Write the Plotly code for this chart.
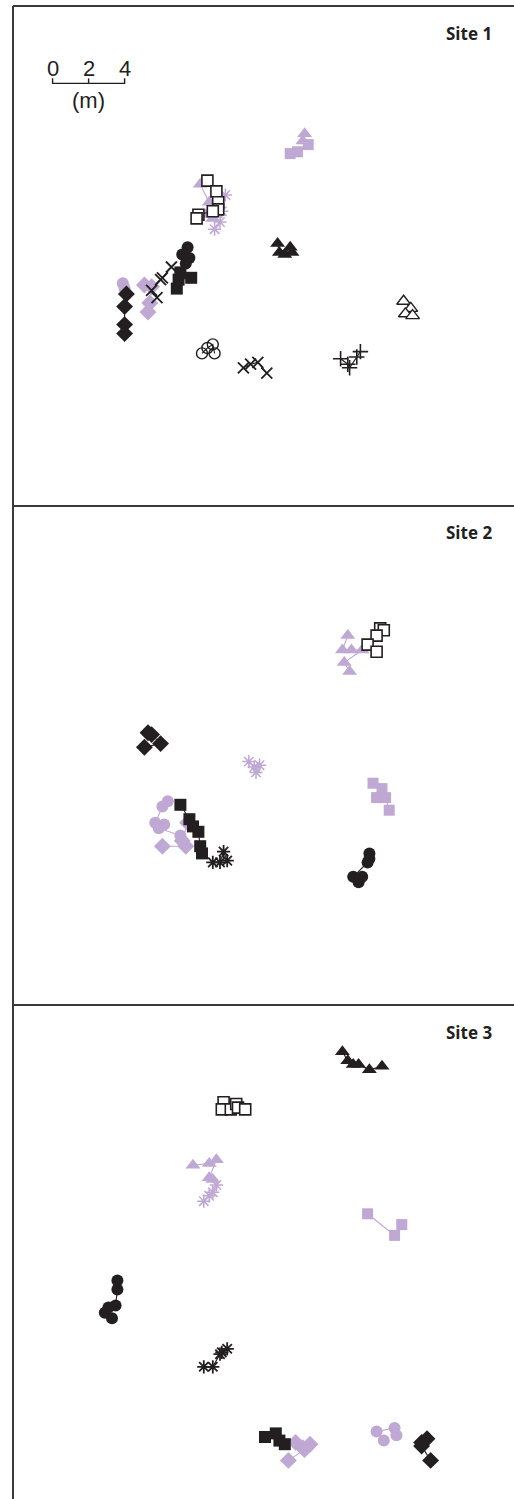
import plotly.graph_objects as go

BLACK = "#231f20"
LILAC = "#bfa8d4"
BORDER = "#3a3a3a"

# ---- data: positions in metres (x from left edge, y from top edge of each site panel) ----
# Site 1
s1_lilac_tri_a_x = [16.2, 16.1]
s1_lilac_tri_a_y = [7.1, 7.5]
s1_lilac_sq_x = [16.4, 15.8, 15.4]
s1_lilac_sq_y = [7.7, 8.1, 8.2]
s1_open_sq_x = [10.8, 11.3, 11.4, 11.4, 11.1, 10.3, 10.2]
s1_open_sq_y = [9.7, 10.3, 10.9, 11.3, 11.4, 11.6, 11.8]
s1_lilac_tri_x = [10.4, 10.9, 10.7, 11.1]
s1_lilac_tri_y = [9.9, 10.9, 11.6, 11.8]
s1_lilac_ast_x = [11.8, 11.6, 11.5, 11.2]
s1_lilac_ast_y = [10.5, 11.4, 12.0, 12.4]
s1_blk_circ_x = [9.7, 9.4, 9.8, 9.6]
s1_blk_circ_y = [13.4, 13.8, 14.0, 14.3]
s1_blk_sq_x = [9.3, 9.9, 9.2, 9.1]
s1_blk_sq_y = [14.8, 15.1, 15.2, 15.7]
s1_blk_x_a_x = [8.8, 8.3, 8.2, 7.7, 8.0]
s1_blk_x_a_y = [14.5, 15.1, 15.2, 15.8, 16.2]
s1_lilac_circ_x = [6.1, 6.2]
s1_lilac_circ_y = [15.4, 15.7]
s1_blk_dia_x = [6.3, 6.2, 6.2, 6.2]
s1_blk_dia_y = [16.0, 16.7, 17.7, 18.2]
s1_lilac_dia_x = [7.3, 7.7, 7.6, 7.5]
s1_lilac_dia_y = [15.5, 15.6, 16.5, 17.0]
s1_open_circ_x = [10.5, 10.8, 11.1, 11.2]
s1_open_circ_y = [19.3, 19.0, 18.8, 19.3]
s1_blk_x_b_x = [12.8, 13.2, 13.6, 14.1]
s1_blk_x_b_y = [20.1, 19.9, 19.8, 20.4]
s1_blk_tri_x = [14.7, 14.8, 15.4, 15.1, 15.5]
s1_blk_tri_y = [13.2, 13.7, 13.4, 13.8, 13.7]
s1_open_tri_x = [21.7, 22.1, 21.8, 22.2]
s1_open_tri_y = [16.4, 16.8, 17.1, 17.2]
s1_blk_plus_x = [18.2, 18.6, 18.7, 19.1, 19.3]
s1_blk_plus_y = [19.6, 19.9, 20.1, 19.5, 19.2]

# Site 2
s2_open_sq_x = [20.4, 20.6, 20.2, 19.7, 20.2]
s2_open_sq_y = [6.8, 6.9, 7.2, 7.7, 8.1]
s2_lilac_tri_x = [18.6, 18.3, 18.8, 19.4, 18.4, 18.7]
s2_lilac_tri_y = [7.2, 8.0, 8.0, 8.0, 8.7, 9.2]
s2_blk_dia_x = [7.5, 7.7, 8.2, 7.3]
s2_blk_dia_y = [12.6, 12.7, 13.2, 13.4]
s2_lilac_ast_x = [13.1, 13.4, 13.7, 13.5]
s2_lilac_ast_y = [14.2, 14.5, 14.4, 14.8]
s2_lilac_sq_x = [20.0, 20.5, 20.2, 20.7, 20.9]
s2_lilac_sq_y = [15.4, 15.7, 16.2, 16.2, 16.9]
s2_lilac_circ_x = [8.6, 8.3, 7.9, 8.4, 8.1, 9.3]
s2_lilac_circ_y = [16.4, 16.7, 17.6, 17.7, 17.9, 18.3]
s2_lilac_dia_x = [9.7, 9.4, 9.6, 8.3]
s2_lilac_dia_y = [17.6, 18.6, 18.9, 18.9]
s2_blk_sq_x = [9.3, 9.8, 10.0, 10.3, 10.4, 10.5]
s2_blk_sq_y = [16.6, 17.4, 17.8, 18.1, 18.9, 19.3]
s2_blk_ast_x = [11.1, 11.5, 11.7, 11.9]
s2_blk_ast_y = [19.8, 19.8, 19.2, 19.7]
s2_blk_circ_x = [19.8, 19.8, 19.7, 18.9, 19.4, 19.2]
s2_blk_circ_y = [19.3, 19.6, 19.8, 20.6, 20.6, 20.9]

# Site 3
s3_blk_tri_x = [18.3, 18.6, 18.9, 19.2, 19.8, 20.5]
s3_blk_tri_y = [2.6, 3.1, 3.3, 3.3, 3.6, 3.4]
s3_open_sq_x = [11.7, 11.6, 12.1, 12.4, 12.5, 12.9]
s3_open_sq_y = [5.4, 5.8, 5.8, 5.5, 5.7, 5.8]
s3_lilac_tri_x = [10.0, 10.9, 11.3, 10.9, 11.1]
s3_lilac_tri_y = [8.9, 8.8, 8.6, 9.6, 9.7]
s3_lilac_ast_x = [11.3, 11.1, 10.9, 10.6]
s3_lilac_ast_y = [10.0, 10.4, 10.6, 10.9]
s3_lilac_sq_x = [19.7, 21.2, 21.6]
s3_lilac_sq_y = [11.6, 12.8, 12.2]
s3_blk_circ_x = [5.8, 5.8, 5.7, 5.3, 5.1, 5.5]
s3_blk_circ_y = [15.3, 15.8, 16.7, 16.8, 17.1, 17.4]
s3_blk_ast_x = [10.6, 11.1, 11.5, 11.6, 11.9]
s3_blk_ast_y = [20.1, 20.1, 19.4, 19.3, 19.1]
s3_blk_sq_x = [14.0, 14.6, 14.8, 15.1]
s3_blk_sq_y = [24.0, 23.8, 24.2, 24.4]
s3_lilac_dia_x = [15.7, 16.1, 16.5, 16.2, 15.3]
s3_lilac_dia_y = [24.3, 24.6, 24.4, 24.7, 25.3]
s3_lilac_circ_x = [20.6, 20.2, 21.2, 21.3]
s3_lilac_circ_y = [24.2, 23.7, 23.5, 23.9]
s3_blk_dia_x = [22.7, 23.0, 22.7, 23.2]
s3_blk_dia_y = [24.3, 24.1, 24.5, 25.3]

site_labels = ["Site 1", "Site 2", "Site 3"]
scale_ticks = [0, 2, 4]
scale_origin = (2.2, 4.3)  # metres, panel 1

# ---- styles ----
STY = {
    "blk_circ": dict(symbol="circle", size=12, color=BLACK, line=dict(width=0)),
    "lilac_circ": dict(symbol="circle", size=12, color=LILAC, line=dict(width=0)),
    "blk_sq": dict(symbol="square", size=12, color=BLACK, line=dict(width=0)),
    "lilac_sq": dict(symbol="square", size=11, color=LILAC, line=dict(width=0)),
    "open_sq": dict(symbol="square", size=11, color="white", line=dict(width=1.6, color=BLACK)),
    "blk_tri": dict(symbol="triangle-up", size=13, color=BLACK, line=dict(width=0)),
    "lilac_tri": dict(symbol="triangle-up", size=13, color=LILAC, line=dict(width=0)),
    "open_tri": dict(symbol="triangle-up", size=12, color="white", line=dict(width=1.4, color=BLACK)),
    "blk_dia": dict(symbol="diamond", size=13, color=BLACK, line=dict(width=0)),
    "lilac_dia": dict(symbol="diamond", size=13, color=LILAC, line=dict(width=0)),
    "open_circ": dict(symbol="circle-open", size=11, color=BLACK, line=dict(width=1.4, color=BLACK)),
    "blk_x": dict(symbol="x-thin", size=11, color=BLACK, line=dict(width=1.8, color=BLACK)),
    "blk_plus": dict(symbol="cross-thin", size=11, color=BLACK, line=dict(width=1.6, color=BLACK)),
    "lilac_ast": dict(symbol="asterisk", size=11, color=LILAC, line=dict(width=1.5, color=LILAC)),
    "blk_ast": dict(symbol="asterisk", size=11, color=BLACK, line=dict(width=1.8, color=BLACK)),
}
LINECOL = {k: (LILAC if k.startswith("lilac") else BLACK) for k in STY}

groups = [
    (1, "lilac_tri", s1_lilac_tri_a_x, s1_lilac_tri_a_y),
    (1, "lilac_sq", s1_lilac_sq_x, s1_lilac_sq_y),
    (1, "lilac_tri", s1_lilac_tri_x, s1_lilac_tri_y),
    (1, "lilac_ast", s1_lilac_ast_x, s1_lilac_ast_y),
    (1, "open_sq", s1_open_sq_x, s1_open_sq_y),
    (1, "lilac_circ", s1_lilac_circ_x, s1_lilac_circ_y),
    (1, "lilac_dia", s1_lilac_dia_x, s1_lilac_dia_y),
    (1, "blk_dia", s1_blk_dia_x, s1_blk_dia_y),
    (1, "blk_circ", s1_blk_circ_x, s1_blk_circ_y),
    (1, "blk_sq", s1_blk_sq_x, s1_blk_sq_y),
    (1, "blk_x", s1_blk_x_a_x, s1_blk_x_a_y),
    (1, "open_circ", s1_open_circ_x, s1_open_circ_y),
    (1, "blk_x", s1_blk_x_b_x, s1_blk_x_b_y),
    (1, "blk_tri", s1_blk_tri_x, s1_blk_tri_y),
    (1, "open_tri", s1_open_tri_x, s1_open_tri_y),
    (1, "blk_plus", s1_blk_plus_x, s1_blk_plus_y),
    (2, "lilac_tri", s2_lilac_tri_x, s2_lilac_tri_y),
    (2, "open_sq", s2_open_sq_x, s2_open_sq_y),
    (2, "blk_dia", s2_blk_dia_x, s2_blk_dia_y),
    (2, "lilac_ast", s2_lilac_ast_x, s2_lilac_ast_y),
    (2, "lilac_sq", s2_lilac_sq_x, s2_lilac_sq_y),
    (2, "lilac_circ", s2_lilac_circ_x, s2_lilac_circ_y),
    (2, "lilac_dia", s2_lilac_dia_x, s2_lilac_dia_y),
    (2, "blk_sq", s2_blk_sq_x, s2_blk_sq_y),
    (2, "blk_ast", s2_blk_ast_x, s2_blk_ast_y),
    (2, "blk_circ", s2_blk_circ_x, s2_blk_circ_y),
    (3, "blk_tri", s3_blk_tri_x, s3_blk_tri_y),
    (3, "open_sq", s3_open_sq_x, s3_open_sq_y),
    (3, "lilac_tri", s3_lilac_tri_x, s3_lilac_tri_y),
    (3, "lilac_ast", s3_lilac_ast_x, s3_lilac_ast_y),
    (3, "lilac_sq", s3_lilac_sq_x, s3_lilac_sq_y),
    (3, "blk_circ", s3_blk_circ_x, s3_blk_circ_y),
    (3, "blk_ast", s3_blk_ast_x, s3_blk_ast_y),
    (3, "lilac_dia", s3_lilac_dia_x, s3_lilac_dia_y),
    (3, "blk_sq", s3_blk_sq_x, s3_blk_sq_y),
    (3, "lilac_circ", s3_lilac_circ_x, s3_lilac_circ_y),
    (3, "blk_dia", s3_blk_dia_x, s3_blk_dia_y),
]

# ---- layout geometry ----
W, H = 514, 1499
ML, MT = 13, 6
PX_PER_M = 18.0
panel_px = [500, 499, 494]
plot_h = H - MT
plot_w = W - ML

fig = go.Figure()
for site, key, xs, ys in groups:
    suf = "" if site == 1 else str(site)
    fig.add_trace(go.Scatter(
        x=xs, y=ys, mode="lines+markers",
        line=dict(color=LINECOL[key], width=1.1),
        marker=STY[key], xaxis="x" + suf, yaxis="y" + suf,
        showlegend=False, hoverinfo="skip", cliponaxis=False,
    ))

# scale bar in panel 1
sx0, sy = scale_origin
fig.add_trace(go.Scatter(
    x=[sx0 + scale_ticks[0], sx0 + scale_ticks[0], sx0 + scale_ticks[-1], sx0 + scale_ticks[-1]],
    y=[sy - 0.28, sy, sy, sy - 0.28], mode="lines",
    line=dict(color=BLACK, width=1.4), showlegend=False, hoverinfo="skip"))
fig.add_trace(go.Scatter(
    x=[sx0 + scale_ticks[1], sx0 + scale_ticks[1]], y=[sy - 0.28, sy], mode="lines",
    line=dict(color=BLACK, width=1.4), showlegend=False, hoverinfo="skip"))
SCALE_FONT = dict(family="Liberation Sans Narrow, Liberation Sans, Arial", size=22, color=BLACK)
for t in scale_ticks:
    fig.add_annotation(x=sx0 + t, y=sy - 0.85, text=str(t), showarrow=False,
                       xref="x", yref="y", yanchor="middle", font=SCALE_FONT)
fig.add_annotation(x=sx0 + scale_ticks[1], y=sy + 0.95, text="(m)", showarrow=False,
                   xref="x", yref="y", yanchor="middle", font=SCALE_FONT)

layout = dict(width=W, height=H, margin=dict(l=ML, r=0, t=MT, b=0),
              plot_bgcolor="white", paper_bgcolor="white")
top_px = 0
shapes = []
for i, hpx in enumerate(panel_px):
    suf = "" if i == 0 else str(i + 1)
    y_top = 1 - top_px / plot_h
    y_bot = max(0.0, 1 - (top_px + hpx) / plot_h)
    real_h = (y_top - y_bot) * plot_h
    layout["xaxis" + suf] = dict(domain=[0, 1], range=[0, plot_w / PX_PER_M], visible=False,
                                anchor="y" + suf, fixedrange=True)
    layout["yaxis" + suf] = dict(domain=[y_bot, y_top], range=[real_h / PX_PER_M, 0], visible=False,
                                anchor="x" + suf, fixedrange=True)
    shapes.append(dict(type="line", xref="paper", yref="paper", x0=0, x1=1, y0=y_top, y1=y_top,
                       line=dict(color=BORDER, width=2)))
    fig.add_annotation(xref="paper", yref="paper", x=(494 - ML) / plot_w,
                       y=1 - (top_px + 27) / plot_h, xanchor="right", yanchor="middle",
                       text="<b>" + site_labels[i] + "</b>", showarrow=False,
                       font=dict(family="Open Sans, Lato, Arial", size=17, color="#231f20"))
    top_px += hpx
shapes.append(dict(type="line", xref="paper", yref="paper", x0=0, x1=0, y0=0, y1=1,
                   line=dict(color=BORDER, width=2)))
layout["shapes"] = shapes
fig.update_layout(**layout)
fig.write_html("out.html", config={"displayModeBar": False})

# remove the browser's default page margin so the figure sits at the top-left corner
with open("out.html", encoding="utf-8") as f:
    html = f.read()
html = html.replace("<head>", "<head><style>html,body{margin:0;padding:0;overflow:hidden;}</style>", 1)
with open("out.html", "w", encoding="utf-8") as f:
    f.write(html)
